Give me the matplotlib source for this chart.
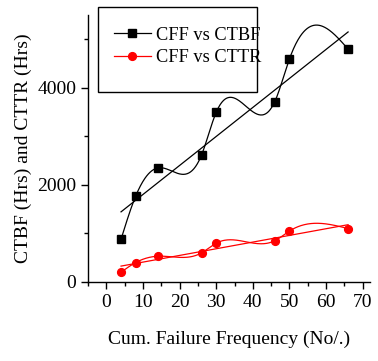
import numpy as np
import matplotlib.pyplot as plt
from matplotlib.patches import Rectangle

plt.rcParams['font.family'] = ['Liberation Serif', 'DejaVu Serif']

# Cumulative failure frequency vs cumulative times
cff = [4, 8, 14, 26, 30, 46, 50, 66]
ctbf = [880, 1770, 2350, 2620, 3500, 3720, 4600, 4800]
cttr = [200, 400, 530, 600, 800, 850, 1050, 1100]


def natural_spline(x, y, n=400):
    x = np.asarray(x, float)
    y = np.asarray(y, float)
    k = len(x)
    h = np.diff(x)
    A = np.zeros((k, k))
    b = np.zeros(k)
    A[0, 0] = A[-1, -1] = 1
    for i in range(1, k - 1):
        A[i, i - 1] = h[i - 1]
        A[i, i] = 2 * (h[i - 1] + h[i])
        A[i, i + 1] = h[i]
        b[i] = 3 * ((y[i + 1] - y[i]) / h[i] - (y[i] - y[i - 1]) / h[i - 1])
    c = np.linalg.solve(A, b)
    xs = np.linspace(x[0], x[-1], n)
    idx = np.clip(np.searchsorted(x, xs) - 1, 0, k - 2)
    dx = xs - x[idx]
    bb = (y[1:] - y[:-1]) / h - h * (2 * c[:-1] + c[1:]) / 3
    d = (c[1:] - c[:-1]) / (3 * h)
    ys = y[idx] + bb[idx] * dx + c[idx] * dx ** 2 + d[idx] * dx ** 3
    return xs, ys


fig = plt.figure(figsize=(3.78, 3.61), dpi=100)
ax = fig.add_axes([0.233, 0.219, 0.746, 0.739])

for yv, col, mk, ms in [(ctbf, 'black', 's', 5.2), (cttr, 'red', 'o', 5.6)]:
    xs, ys = natural_spline(cff, yv)
    ax.plot(xs, ys, color=col, lw=0.9)
    ax.plot(cff, yv, ls='none', marker=mk, ms=ms, color=col)
    p = np.polyfit(cff, yv, 1)
    xf = np.array([cff[0], cff[-1]])
    ax.plot(xf, np.polyval(p, xf), color=col, lw=0.9)

ax.set_xlim(-5, 72)
ax.set_ylim(0, 5500)
ax.set_xticks(range(0, 71, 10))
ax.set_xticks(range(-5, 71, 10), minor=True)
ax.set_yticks([0, 2000, 4000])
ax.set_yticks([1000, 3000, 5000], minor=True)
ax.tick_params(which='major', length=5, width=1, labelsize=14, direction='out')
ax.tick_params(which='minor', length=3, width=1, direction='out')
for s in ['top', 'right']:
    ax.spines[s].set_visible(False)
for s in ['left', 'bottom']:
    ax.spines[s].set_linewidth(1)

ax.set_xlabel('Cum. Failure Frequency (No/.)', fontsize=14, labelpad=14)
ax.set_ylabel('CTBF (Hrs) and CTTR (Hrs)', fontsize=14, labelpad=4)

# legend with a tall frame
fig.patches.append(Rectangle((98 / 378, 1 - 92 / 361), 159 / 378, 85 / 361,
                             transform=fig.transFigure, fill=False,
                             edgecolor='black', lw=1))
h1, = ax.plot([], [], color='black', marker='s', ms=5.2, lw=0.9)
h2, = ax.plot([], [], color='red', marker='o', ms=5.6, lw=0.9)
fig.legend([h1, h2], ['CFF vs CTBF', 'CFF vs CTTR'], frameon=False,
           loc='upper left', bbox_to_anchor=(101 / 378, 1 - 14 / 361),
           fontsize=13.2, handlelength=2.0, handletextpad=0.3,
           labelspacing=0.3, borderpad=0.2)

fig.savefig('out.png', dpi=100)
